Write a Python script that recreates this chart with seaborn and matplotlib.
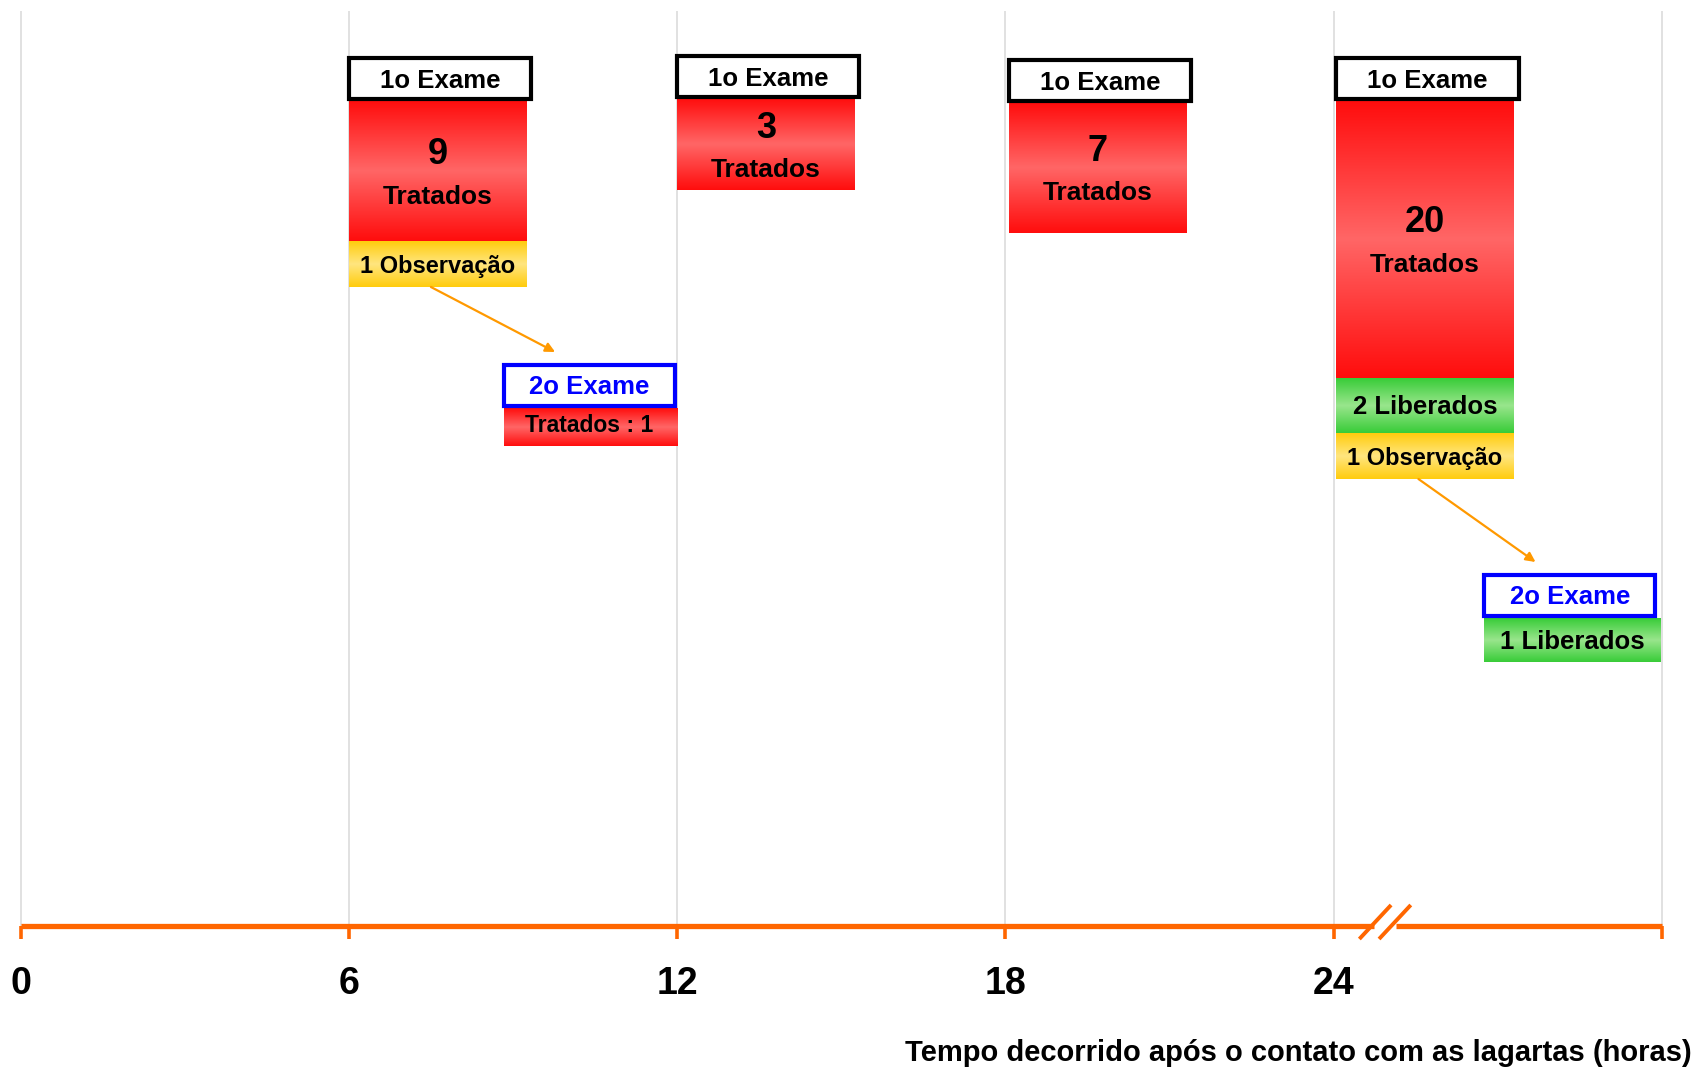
import numpy as np
import matplotlib
matplotlib.use("Agg")
import matplotlib.pyplot as plt
from matplotlib.patches import Rectangle
import seaborn as sns

# ---------------- data ----------------
exam_hours = [6, 12, 18, 24]                 # 1o exame
first_treated = [9, 3, 7, 20]
first_released = [0, 0, 0, 2]
first_observed = [1, 0, 0, 1]

second_from_hours = [6, 24]                  # 2o exame (from observed at these hours)
second_treated = [1, 0]
second_released = [0, 1]

tick_hours = [0, 6, 12, 18, 24]
tick_labels = ["0", "6", "12", "18", "24"]
axis_end_hour = 30
break_span = [24.74, 25.14]
xlabel = "Tempo decorrido após o contato com as lagartas (horas)"

# ---------------- layout (pixel-like y units, hours on x) ----------------
W, H = 1697, 1070
x0_px, px_per_h = 20.6, 54.71
axis_y = 926
grid_top = 11
block_offset = [0.0, 0.0, 0.07, 0.05]
header_top = [58, 56, 60, 58]
header_h, header_w = 41, 3.33
red_w = 3.24
red_h = [141, 92, 131, 278]
green_h, yellow_h = 55, 46
second_offset = [2.83, 2.75]
second_top = [365, 575]
second_w, second_h = 3.13, 41
second_fill_h = 44

RED = ((1.0, 0.05, 0.05), (1.0, 0.40, 0.40))
YEL = ((1.0, 0.80, 0.05), (1.0, 0.90, 0.50))
GRN = ((0.22, 0.80, 0.22), (0.60, 0.90, 0.55))
ORANGE = "#FF6600"

sns.set_theme(style="white")
plt.rcParams["font.family"] = ["Liberation Sans", "DejaVu Sans"]
plt.rcParams["font.weight"] = "bold"
plt.rcParams["text.color"] = "black"

fig = plt.figure(figsize=(W / 100, H / 100), dpi=100)
ax = fig.add_axes([0, 0, 1, 1])
XL = (-x0_px / px_per_h, (W - x0_px) / px_per_h)


def grad_box(x0, x1, y0, y1, cols, z=2):
    edge, mid = np.array(cols[0]), np.array(cols[1])
    t = np.abs(np.linspace(-1, 1, 200))[:, None, None]
    img = mid * (1 - t) + edge * t
    ax.imshow(img, extent=(x0, x1, y1, y0), aspect="auto", zorder=z,
              interpolation="bilinear")


def frame_box(x0, w, y0, h, color):
    ax.add_patch(Rectangle((x0, y0), w, h, facecolor="white", edgecolor=color,
                           lw=3.0, zorder=4))


def label(x, y, s, size, color="black"):
    ax.text(x, y, s, ha="center", va="center", fontsize=size,
            fontweight="bold", color=color, zorder=5)


# grid lines
ax.vlines(list(range(0, axis_end_hour + 1, 6)), grid_top, axis_y,
          color="#D9D9D9", lw=1.1, zorder=0)

# axis with break (seaborn lines)
sns.lineplot(x=[0, break_span[0]], y=[axis_y, axis_y], color=ORANGE, lw=3.8,
             ax=ax, solid_capstyle="butt")
sns.lineplot(x=[break_span[1], axis_end_hour], y=[axis_y, axis_y], color=ORANGE,
             lw=3.8, ax=ax, solid_capstyle="butt")
ax.vlines(tick_hours + [axis_end_hour], axis_y, axis_y + 13, color=ORANGE, lw=2.6)
for dx in (0.0, 0.36):
    ax.plot([break_span[0] - 0.27 + dx, break_span[0] + 0.31 + dx],
            [axis_y + 13, axis_y - 21], color=ORANGE, lw=2.8, solid_capstyle="butt")

for h, lab in zip(tick_hours, tick_labels):
    label(h, 984, lab, 27)
ax.text(XL[1] - 5 / px_per_h, 1053, xlabel, ha="right", va="center",
        fontsize=21, fontweight="bold", color="black")

# first exam blocks
obs_bottom = {}
for i, hr in enumerate(exam_hours):
    x = hr + block_offset[i]
    ht = header_top[i]
    frame_box(x, header_w, ht, header_h, "black")
    label(x + header_w / 2, ht + header_h / 2 + 2, "1o Exame", 18.5)
    rt = ht + header_h + 1
    rb = rt + red_h[i]
    grad_box(x, x + red_w, rt, rb, RED)
    cy = (rt + rb) / 2 + 5
    xc = x + red_w / 2
    label(xc, cy - 21, str(first_treated[i]), 26)
    label(xc, cy + 21, "Tratados", 19)
    y = rb
    if first_released[i]:
        grad_box(x, x + red_w, y, y + green_h, GRN)
        label(xc, y + green_h / 2 + 2, f"{first_released[i]} Liberados", 18.5)
        y += green_h
    if first_observed[i]:
        grad_box(x, x + red_w, y, y + yellow_h, YEL)
        label(xc, y + yellow_h / 2 + 3, f"{first_observed[i]} Observação", 17)
        y += yellow_h
        obs_bottom[hr] = (x, y)

# second exam blocks
for j, hr in enumerate(second_from_hours):
    bx = hr + second_offset[j]
    bt = second_top[j]
    frame_box(bx, second_w, bt, second_h, "#0000FF")
    label(bx + second_w / 2, bt + second_h / 2 + 2, "2o Exame", 18.5, "#0000FF")
    ft = bt + second_h + 2
    if second_treated[j]:
        grad_box(bx, bx + second_w + 0.04, ft, ft + second_fill_h - 6, RED)
        label(bx + second_w / 2, ft + (second_fill_h - 6) / 2 - 2,
              f"Tratados : {second_treated[j]}", 16.5)
    if second_released[j]:
        grad_box(bx, bx + second_w + 0.09, ft, ft + second_fill_h, GRN)
        label(bx + second_w / 2 + 0.04, ft + second_fill_h / 2 + 2,
              f"{second_released[j]} Liberados", 18.5)
    sx, sy = obs_bottom[hr]
    ax.annotate("", xy=(bx + 0.94, bt - 13), xytext=(sx + 1.5, sy),
                arrowprops=dict(arrowstyle="-|>", color="#FF9900", lw=1.6,
                                mutation_scale=14, shrinkA=0, shrinkB=0), zorder=3)

ax.set_xlim(*XL)
ax.set_ylim(H, 0)
ax.axis("off")
fig.savefig("out.png", dpi=100, facecolor="white")
